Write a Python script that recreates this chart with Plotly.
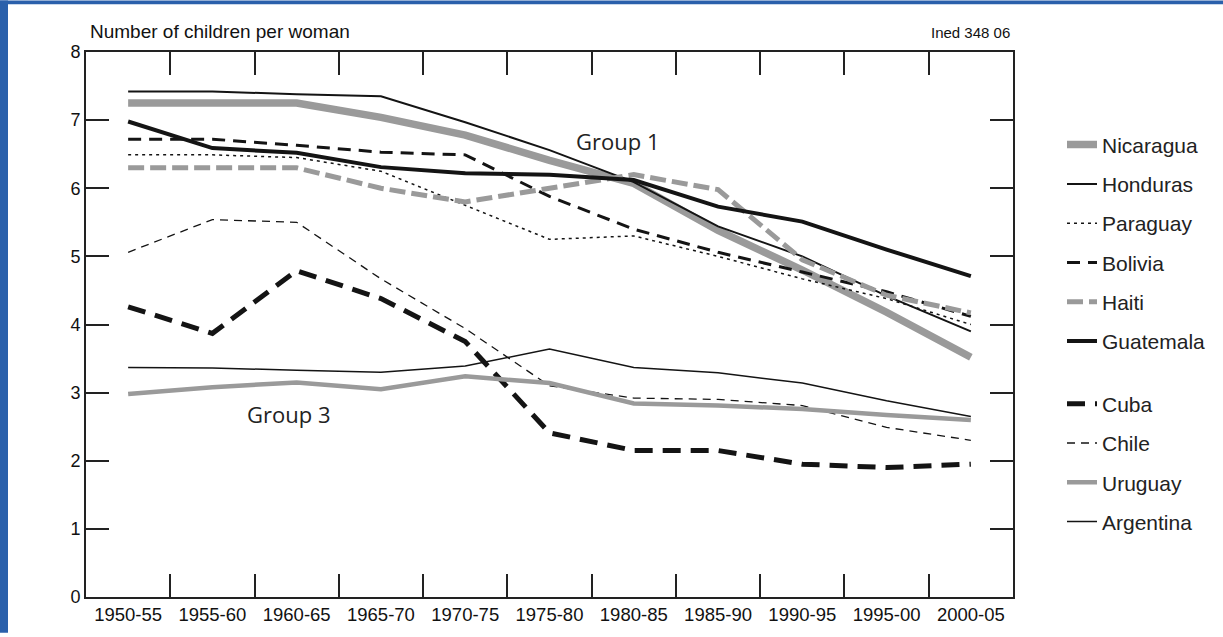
import plotly.graph_objects as go

periods = ["1950-55", "1955-60", "1960-65", "1965-70", "1970-75", "1975-80",
           "1980-85", "1985-90", "1990-95", "1995-00", "2000-05"]

nicaragua = [7.25, 7.25, 7.25, 7.04, 6.78, 6.41, 6.07, 5.38, 4.80, 4.18, 3.52]
honduras = [7.42, 7.42, 7.38, 7.35, 6.97, 6.56, 6.09, 5.44, 5.00, 4.42, 3.90]
paraguay = [6.49, 6.49, 6.45, 6.25, 5.75, 5.25, 5.30, 5.00, 4.67, 4.38, 4.00]
bolivia = [6.72, 6.72, 6.63, 6.53, 6.49, 5.88, 5.40, 5.06, 4.77, 4.48, 4.12]
haiti = [6.30, 6.30, 6.30, 6.00, 5.80, 6.00, 6.20, 5.98, 4.95, 4.43, 4.17]
guatemala = [6.98, 6.59, 6.52, 6.31, 6.22, 6.20, 6.12, 5.73, 5.51, 5.10, 4.71]
cuba = [4.26, 3.87, 4.79, 4.38, 3.75, 2.41, 2.15, 2.15, 1.95, 1.90, 1.95]
chile = [5.06, 5.54, 5.50, 4.67, 3.94, 3.10, 2.92, 2.90, 2.81, 2.49, 2.30]
uruguay = [2.98, 3.08, 3.15, 3.05, 3.24, 3.14, 2.84, 2.81, 2.76, 2.67, 2.60]
argentina = [3.37, 3.36, 3.33, 3.30, 3.39, 3.64, 3.37, 3.29, 3.14, 2.88, 2.65]

y_ticks = [0, 1, 2, 3, 4, 5, 6, 7, 8]

GRAY = "#9a9a9a"
BLACK = "#141414"

series = [
    ("Nicaragua", nicaragua, GRAY, 7.5, "solid", "legend"),
    ("Honduras", honduras, BLACK, 2, "solid", "legend"),
    ("Paraguay", paraguay, BLACK, 1.5, "3px,4px", "legend"),
    ("Bolivia", bolivia, BLACK, 3, "13px,8px", "legend"),
    ("Haiti", haiti, GRAY, 5, "16px,6px", "legend"),
    ("Guatemala", guatemala, BLACK, 4, "solid", "legend"),
    ("Cuba", cuba, BLACK, 5, "18px,10px", "legend2"),
    ("Chile", chile, BLACK, 1.3, "8px,6px", "legend2"),
    ("Uruguay", uruguay, GRAY, 4.5, "solid", "legend2"),
    ("Argentina", argentina, BLACK, 1.5, "solid", "legend2"),
]

fig = go.Figure()
for name, vals, color, width, dash, leg in series:
    fig.add_trace(go.Scatter(
        x=periods, y=vals, mode="lines", name=name,
        line=dict(color=color, width=width, dash=dash),
        legend=leg, legendgroup=name,
    ))

W, H = 1223, 637
ML, MR, MT, MB = 86, 210, 52, 36
PW = W - ML - MR
PH = H - MT - MB

def px(xp):
    return (xp - ML) / PW

def py(yp):
    return (H - MB - yp) / PH

font_main = "Liberation Sans, Arial, sans-serif"

fig.update_layout(
    width=W, height=H,
    margin=dict(l=ML, r=MR, t=MT, b=MB),
    paper_bgcolor="white", plot_bgcolor="white",
    font=dict(family=font_main, color="#111111", size=18),
    xaxis=dict(
        type="category", categoryorder="array", categoryarray=periods,
        range=[-0.5, 10.5], tickson="boundaries",
        ticks="inside", ticklen=23, tickwidth=2, tickcolor="#222",
        showline=True, linecolor="#222", linewidth=2, mirror="ticks",
        showgrid=False, zeroline=False,
        tickfont=dict(size=18.5, family=font_main, color="#111"),
    ),
    yaxis=dict(
        range=[0, 8], tickvals=y_ticks, ticktext=[str(v) for v in y_ticks],
        ticks="inside", ticklen=23, tickwidth=2, tickcolor="#222",
        showline=True, linecolor="#222", linewidth=2, mirror="ticks",
        showgrid=False, zeroline=False,
        tickfont=dict(size=18, family=font_main, color="#111"),
    ),
    legend=dict(
        x=px(1062), y=py(125), xanchor="left", yanchor="top",
        font=dict(size=21, family=font_main, color="#222"),
        tracegroupgap=9, traceorder="grouped", bgcolor="rgba(0,0,0,0)",
    ),
    legend2=dict(
        x=px(1062), y=py(386), xanchor="left", yanchor="top",
        font=dict(size=21, family=font_main, color="#222"),
        tracegroupgap=9, traceorder="grouped", bgcolor="rgba(0,0,0,0)",
    ),
    showlegend=True,
)

fig.add_annotation(
    text="Number of children per woman", xref="paper", yref="paper",
    x=px(88), y=py(31), xanchor="left", yanchor="middle", showarrow=False,
    font=dict(size=19, family=font_main, color="#111"),
)
fig.add_annotation(
    text="Ined 348 06", xref="paper", yref="paper",
    x=px(1012), y=py(32), xanchor="right", yanchor="middle", showarrow=False,
    font=dict(size=15, family=font_main, color="#111"),
)
fig.add_annotation(
    text="Group 1", xref="x", yref="y", x=5.81, y=6.69,
    showarrow=False, font=dict(size=22, family="Open Sans, sans-serif", color="#222"),
)
fig.add_annotation(
    text="Group 3", xref="x", yref="y", x=1.9, y=2.68,
    showarrow=False, font=dict(size=22, family="Open Sans, sans-serif", color="#222"),
)

BLUE = "#2a60ab"
fig.add_shape(type="rect", xref="paper", yref="paper",
              x0=px(0), x1=px(8), y0=py(H), y1=py(0),
              fillcolor=BLUE, line=dict(width=0), layer="above")
fig.add_shape(type="rect", xref="paper", yref="paper",
              x0=px(0), x1=px(W), y0=py(4), y1=py(0),
              fillcolor=BLUE, line=dict(width=0), layer="above")

fig.write_html(
    "out.html",
    config={"displayModeBar": False},
    post_script="document.body.style.margin='0';document.body.style.overflow='hidden';",
)
